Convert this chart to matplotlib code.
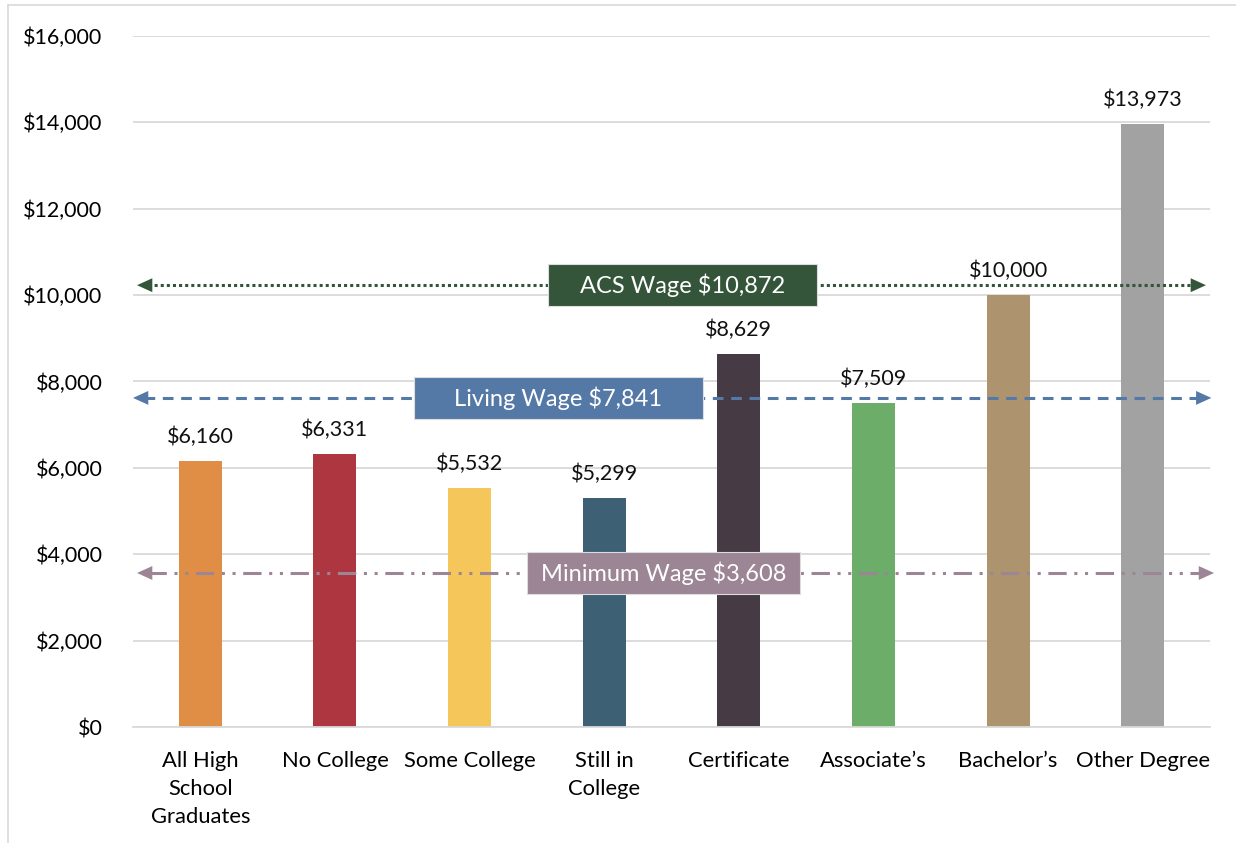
import matplotlib.pyplot as plt
import matplotlib.ticker as mticker
from matplotlib.lines import Line2D
from matplotlib.patches import Rectangle

plt.rcParams["font.family"] = ["Lato", "DejaVu Sans"]

categories = ["All High\nSchool\nGraduates", "No College", "Some College", "Still in\nCollege",
              "Certificate", "Associate\u2019s", "Bachelor\u2019s", "Other Degree"]
earnings = [6160, 6331, 5532, 5299, 8629, 7509, 10000, 13973]
bar_colors = ["#E08E45", "#AE3640", "#F5C65A", "#3E6075", "#463A45", "#6CAD69", "#AD946E", "#A2A2A2"]

# reference wage lines: label text, where the line sits on the chart
ref_labels = ["ACS Wage $10,872", "Living Wage $7,841", "Minimum Wage $3,608"]
ref_levels = [10230, 7620, 3566]
ref_colors = ["#34553A", "#5579A6", "#9C8595"]
ref_styles = [(0, (1, 1.0)), (0, (3.5, 2.5)), (0, (6, 2.5, 1, 2.5, 1, 2.5))]
ref_box_x = [3.58, 2.66, 3.44]
ref_box_w = [2.0, 2.15, 2.03]
ref_span = [(-0.47, 7.47), (-0.5, 7.51), (-0.47, 7.53)]

fig = plt.figure(figsize=(12.36, 8.43), dpi=100)
ax = fig.add_axes([133 / 1236, 1 - 727 / 843, 1077 / 1236, 691 / 843])

x = range(len(categories))
bars = ax.bar(x, earnings, color=bar_colors, width=0.32, zorder=2)

for bar, val in zip(bars, earnings):
    ax.annotate(f"${val:,.0f}", (bar.get_x() + bar.get_width() / 2, val),
                xytext=(0, 10), textcoords="offset points",
                ha="center", va="bottom", fontsize=15.5, color="#111111")

for label, lvl, col, ls, bx, bw, (x0, x1) in zip(ref_labels, ref_levels, ref_colors,
                                                 ref_styles, ref_box_x, ref_box_w, ref_span):
    ax.plot([x0 + 0.08, x1 - 0.08], [lvl, lvl], color=col, linewidth=2.2,
            linestyle=ls, zorder=3, clip_on=False)
    for xs, xe in [(x0 + 0.1, x0), (x1 - 0.1, x1)]:
        ax.annotate("", xy=(xe, lvl), xytext=(xs, lvl),
                    arrowprops=dict(arrowstyle="-|>,head_length=1.1,head_width=0.5",
                                    color=col, lw=0, shrinkA=0, shrinkB=0),
                    zorder=4, annotation_clip=False)
    ax.add_patch(Rectangle((bx - bw / 2, lvl - 490), bw, 980, facecolor=col,
                           edgecolor="#dddddd", linewidth=0.8, zorder=5))
    ax.text(bx, lvl, label, ha="center", va="center", fontsize=17, color="white", zorder=6)

ax.set_xlim(-0.5, 7.5)
ax.set_ylim(0, 16000)
ax.set_yticks(range(0, 16001, 2000))
ax.yaxis.set_major_formatter(mticker.FuncFormatter(lambda v, _: f"${v:,.0f}"))
ax.set_xticks(list(x))
ax.set_xticklabels(categories, fontsize=15.8, linespacing=1.5)
ax.tick_params(axis="y", labelsize=15.5, length=0, pad=22)
ax.tick_params(axis="x", length=0, pad=17)
ax.grid(axis="y", color="#d9d9d9", linewidth=1.3, zorder=0)
ax.set_axisbelow(True)
for s in ["top", "right", "left"]:
    ax.spines[s].set_visible(False)
ax.spines["bottom"].set_color("#d9d9d9")
ax.spines["bottom"].set_linewidth(1.3)

# chart frame (top and left edges visible)
fig.add_artist(Line2D([8 / 1236, 8 / 1236], [0, 1 - 5 / 843], color="#d9d9d9", lw=1.2))
fig.add_artist(Line2D([8 / 1236, 1], [1 - 5 / 843, 1 - 5 / 843], color="#d9d9d9", lw=1.2))

fig.savefig("out.png", dpi=100)
